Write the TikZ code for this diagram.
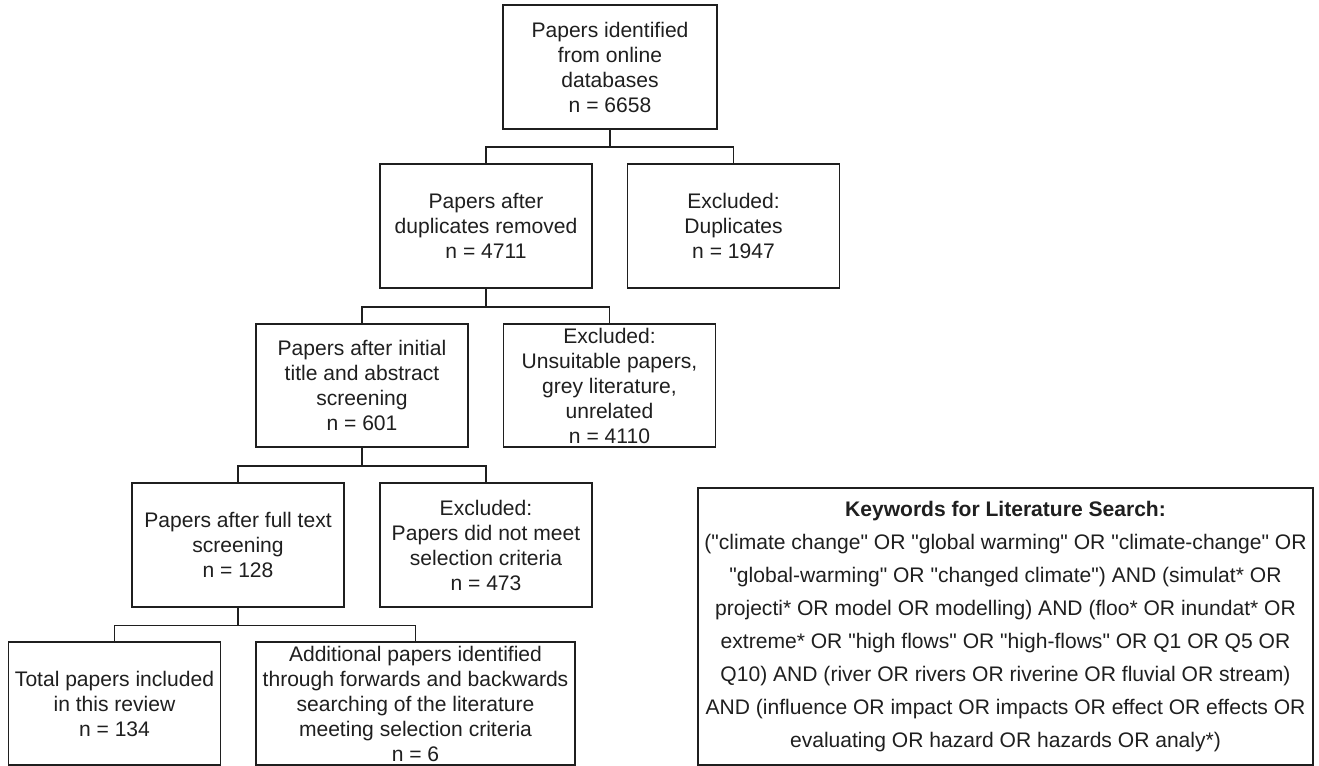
\documentclass[tikz,border=0pt]{standalone}
\usepackage{fontspec}
\setmainfont{Liberation Sans}[Ligatures=TeXOff]
\begin{document}
\begin{tikzpicture}[x=0.75pt,y=-0.75pt,
  every node/.style={font=\fontsize{15.8}{18.75}\selectfont, text=black!88},
  box/.style={draw=black!88, line width=1.4pt, rectangle, align=center, inner sep=0pt,
    minimum width=159pt, minimum height=93pt},
  kwbox/.style={draw=black!88, line width=1.4pt, rectangle, align=center, inner sep=0pt,
    minimum width=461.25pt, minimum height=207.75pt, font=\fontsize{15.8}{24.75}\selectfont},
  link/.style={draw=black!88, line width=1.4pt}]
\fill[white] (0,0) rectangle (1319,766);
\useasboundingbox (0,0) rectangle (1319,766);

\node[box, minimum width=160.5pt] (top) at (610,67) {Papers identified\\from online\\databases\\n = 6658};
\node[box] (dup) at (486,226) {Papers after\\duplicates removed\\n = 4711};
\node[box] (exdup) at (733.5,226) {Excluded:\\Duplicates\\n = 1947};
\node[box, minimum height=92.25pt] (scr) at (362,385.5) {Papers after initial\\title and abstract\\screening\\n = 601};
\node[box, minimum height=92.25pt] (exscr) at (609.5,385.5) {Excluded:\\Unsuitable papers,\\grey literature,\\unrelated\\n = 4110};
\node[box] (full) at (238,545) {Papers after full text\\screening\\n = 128};
\node[box] (exfull) at (486,545) {Excluded:\\Papers did not meet\\selection criteria\\n = 473};
\node[box, minimum height=92.25pt] (total) at (114.5,703.5) {Total papers included\\in this review\\n = 134};
\node[box, minimum width=239.25pt, minimum height=92.25pt] (add) at (415.5,703.5) {Additional papers identified\\through forwards and backwards\\searching of the literature\\meeting selection criteria\\n = 6};

\node[kwbox] (kw) at (1005.5,626.5) {\textbf{Keywords for Literature Search:}\\
("climate change" OR "global warming" OR "climate-change" OR\\
"global-warming" OR "changed climate") AND (simulat* OR\\
projecti* OR model OR modelling) AND (floo* OR inundat* OR\\
extreme* OR "high flows" OR "high-flows" OR Q1 OR Q5 OR\\
Q10) AND (river OR rivers OR riverine OR fluvial OR stream)\\
AND (influence OR impact OR impacts OR effect OR effects OR\\
evaluating OR hazard OR hazards OR analy*)};

\draw[link] (top.south) -- ++(0,17.5) -| (dup.north);
\draw[link] (top.south) -- ++(0,17.5) -| (exdup.north);
\draw[link] (dup.south) -- ++(0,18) -| (scr.north);
\draw[link] (dup.south) -- ++(0,18) -| (exscr.north);
\draw[link] (scr.south) -- ++(0,18) -| (full.north);
\draw[link] (scr.south) -- ++(0,18) -| (exfull.north);
\draw[link] (full.south) -- ++(0,17.5) -| (total.north);
\draw[link] (full.south) -- ++(0,17.5) -| (add.north);
\end{tikzpicture}
\end{document}
